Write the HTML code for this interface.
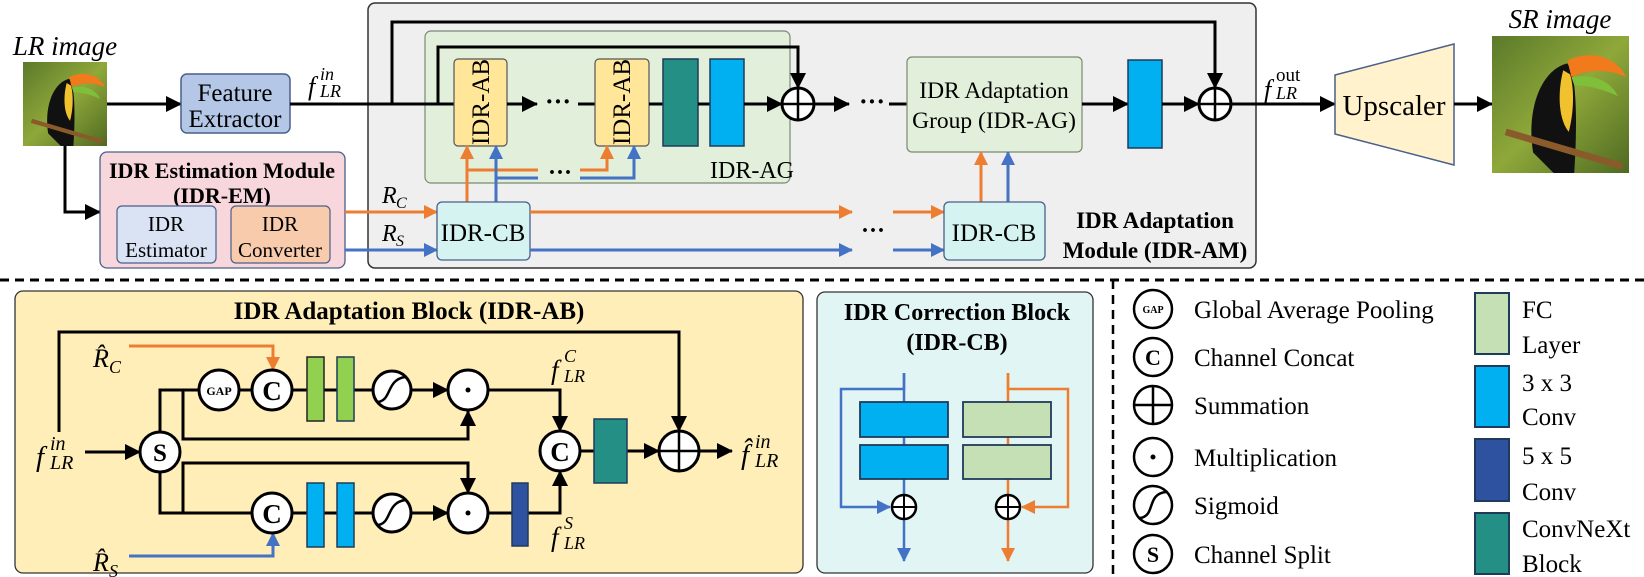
<!DOCTYPE html>
<html><head><meta charset="utf-8"><style>
body{margin:0;background:#fff}
svg{display:block}
text{font-family:"Liberation Serif",serif}
.it{font-style:italic}
.b{font-weight:bold}
</style></head><body>
<svg width="1644" height="577" viewBox="0 0 1644 577" xmlns="http://www.w3.org/2000/svg">
<defs>
<marker id="ak" markerUnits="userSpaceOnUse" markerWidth="16" markerHeight="16" refX="15" refY="8" orient="auto"><path d="M0,0 L16,8 L0,16 z" fill="#000"/></marker>
<marker id="ao" markerUnits="userSpaceOnUse" markerWidth="14" markerHeight="14" refX="13" refY="7" orient="auto"><path d="M0,0 L14,7 L0,14 z" fill="#ed7d31"/></marker>
<marker id="ab" markerUnits="userSpaceOnUse" markerWidth="14" markerHeight="14" refX="13" refY="7" orient="auto"><path d="M0,0 L14,7 L0,14 z" fill="#4472c4"/></marker>
<linearGradient id="bg" x1="0" y1="0" x2="1" y2="1"><stop offset="0" stop-color="#5b7a2a"/><stop offset="0.5" stop-color="#8fa83a"/><stop offset="1" stop-color="#4f6a22"/></linearGradient>
<g id="toucan">
<rect x="0" y="0" width="100" height="100" fill="url(#bg)"/>
<path d="M55,20 C35,25 25,55 30,85 L45,100 L60,100 C62,70 62,40 58,25z" fill="#111"/>
<path d="M52,25 C48,40 48,60 56,70 C60,55 60,38 57,28z" fill="#f2c12e"/>
<path d="M55,18 C70,10 90,14 98,30 C85,24 70,24 58,30z" fill="#f07a1c"/>
<path d="M58,30 C70,28 85,30 92,44 C80,38 68,36 60,36z" fill="#7fbf3a"/>
<path d="M10,70 L95,95" stroke="#8a5a2a" stroke-width="5"/>
</g>
</defs>

<!-- LR image -->
<text x="65" y="55" class="it" font-size="27" text-anchor="middle">LR image</text>
<svg x="23" y="62" width="84" height="84" viewBox="0 0 100 100" preserveAspectRatio="none"><use href="#toucan"/></svg>

<!-- gray IDR-AM -->
<rect x="368" y="3" width="888" height="265" rx="7" fill="#efefef" stroke="#333" stroke-width="1.5"/>
<!-- IDR-AG green -->
<rect x="425" y="31" width="365" height="152" rx="6" fill="#e2efda" stroke="#7a8a70" stroke-width="1.2"/>
<text x="752" y="178" font-size="24" text-anchor="middle">IDR-AG</text>

<!-- main line -->
<line x1="107" y1="104" x2="181" y2="104" stroke="#000" stroke-width="3" marker-end="url(#ak)"/>
<rect x="181" y="74" width="109" height="59" rx="6" fill="#b4c7e7" stroke="#4a5f8a" stroke-width="1.5"/>
<text x="235" y="101" font-size="25" text-anchor="middle">Feature</text>
<text x="235" y="127" font-size="25" text-anchor="middle">Extractor</text>
<text x="308" y="95" class="it" font-size="26">f</text><text x="320" y="80" class="it" font-size="18">in</text><text x="320" y="97" class="it" font-size="18">LR</text>
<line x1="290" y1="104" x2="454" y2="104" stroke="#000" stroke-width="3"/>
<!-- outer skip -->
<polyline points="392,104 392,22 1215,22 1215,88" fill="none" stroke="#000" stroke-width="3" marker-end="url(#ak)"/>
<!-- inner skip -->
<polyline points="438,104 438,47 798,47 798,88" fill="none" stroke="#000" stroke-width="3" marker-end="url(#ak)"/>

<!-- AB boxes -->
<rect x="454" y="59" width="53" height="87" rx="4" fill="#ffe699" stroke="#555" stroke-width="1.2"/>
<text transform="translate(489,102) rotate(-90)" font-size="25" text-anchor="middle">IDR-AB</text>
<line x1="507" y1="104" x2="537" y2="104" stroke="#000" stroke-width="3" marker-end="url(#ak)"/>
<text x="558" y="110" font-size="26" text-anchor="middle" font-weight="bold">···</text>
<line x1="578" y1="104" x2="595" y2="104" stroke="#000" stroke-width="3"/>
<rect x="595" y="59" width="54" height="87" rx="4" fill="#ffe699" stroke="#555" stroke-width="1.2"/>
<text transform="translate(630,102) rotate(-90)" font-size="25" text-anchor="middle">IDR-AB</text>
<line x1="649" y1="104" x2="663" y2="104" stroke="#000" stroke-width="3"/>
<rect x="663" y="59" width="35" height="87" fill="#238f85" stroke="#1f3b5a" stroke-width="1.5"/>
<line x1="698" y1="104" x2="710" y2="104" stroke="#000" stroke-width="3"/>
<rect x="710" y="59" width="34" height="87" fill="#00b0f0" stroke="#1f3b5a" stroke-width="1.5"/>
<line x1="744" y1="104" x2="782" y2="104" stroke="#000" stroke-width="3" marker-end="url(#ak)"/>
<circle cx="798" cy="104" r="16" fill="#fff" stroke="#000" stroke-width="3"/>
<path d="M782,104 H814 M798,88 V120" stroke="#000" stroke-width="2.5"/>
<line x1="814" y1="104" x2="849" y2="104" stroke="#000" stroke-width="3" marker-end="url(#ak)"/>
<text x="872" y="110" font-size="26" text-anchor="middle" font-weight="bold">···</text>
<line x1="889" y1="104" x2="907" y2="104" stroke="#000" stroke-width="3"/>
<rect x="907" y="57" width="175" height="95" rx="5" fill="#e2efda" stroke="#7a8a70" stroke-width="1.2"/>
<text x="994" y="98" font-size="23.5" text-anchor="middle">IDR Adaptation</text>
<text x="994" y="128" font-size="23.5" text-anchor="middle">Group (IDR-AG)</text>
<line x1="1082" y1="104" x2="1128" y2="104" stroke="#000" stroke-width="3" marker-end="url(#ak)"/>
<rect x="1128" y="60" width="34" height="88" fill="#00b0f0" stroke="#1f3b5a" stroke-width="1.5"/>
<line x1="1162" y1="104" x2="1199" y2="104" stroke="#000" stroke-width="3" marker-end="url(#ak)"/>
<circle cx="1215" cy="104" r="16" fill="#fff" stroke="#000" stroke-width="3"/>
<path d="M1199,104 H1231 M1215,88 V120" stroke="#000" stroke-width="2.5"/>
<line x1="1231" y1="104" x2="1335" y2="104" stroke="#000" stroke-width="3" marker-end="url(#ak)"/>
<text x="1264" y="98" class="it" font-size="26">f</text><text x="1276" y="81" font-size="19">out</text><text x="1276" y="99" class="it" font-size="18">LR</text>
<polygon points="1335,75 1454,44 1454,165 1335,134" fill="#fff2cc" stroke="#4a5f8a" stroke-width="1.5"/>
<text x="1394" y="115" font-size="29" text-anchor="middle">Upscaler</text>
<line x1="1454" y1="104" x2="1492" y2="104" stroke="#000" stroke-width="3" marker-end="url(#ak)"/>
<text x="1560" y="28" class="it" font-size="27" text-anchor="middle">SR image</text>
<svg x="1492" y="36" width="137" height="137" viewBox="0 0 100 100" preserveAspectRatio="none"><use href="#toucan"/></svg>

<!-- IDR-EM -->
<polyline points="65,146 65,212 100,212" fill="none" stroke="#000" stroke-width="3" marker-end="url(#ak)"/>
<rect x="100" y="152" width="245" height="116" rx="7" fill="#f8d7dc" stroke="#4a5f8a" stroke-width="1.3"/>
<text x="222" y="178" class="b" font-size="22" text-anchor="middle">IDR Estimation Module</text>
<text x="222" y="203" class="b" font-size="22" text-anchor="middle">(IDR-EM)</text>
<rect x="117" y="206" width="99" height="57" rx="5" fill="#dae3f3" stroke="#4a5f8a" stroke-width="1.2"/>
<text x="166" y="231" font-size="21" text-anchor="middle">IDR</text>
<text x="166" y="257" font-size="21" text-anchor="middle">Estimator</text>
<rect x="231" y="206" width="99" height="57" rx="5" fill="#f8cbad" stroke="#4a5f8a" stroke-width="1.2"/>
<text x="280" y="231" font-size="21" text-anchor="middle">IDR</text>
<text x="280" y="257" font-size="21" text-anchor="middle">Converter</text>

<!-- R arrows -->
<line x1="345" y1="212" x2="437" y2="212" stroke="#ed7d31" stroke-width="3" marker-end="url(#ao)"/>
<line x1="345" y1="250" x2="437" y2="250" stroke="#4472c4" stroke-width="3" marker-end="url(#ab)"/>
<text x="382" y="203" class="it" font-size="24">R</text><text x="396" y="208" class="it" font-size="16">C</text>
<text x="382" y="241" class="it" font-size="24">R</text><text x="396" y="246" class="it" font-size="16">S</text>
<!-- CB1 -->
<polyline points="467,202 467,170 538,170" fill="none" stroke="#ed7d31" stroke-width="3"/>
<line x1="467" y1="170" x2="467" y2="146" stroke="#ed7d31" stroke-width="3" marker-end="url(#ao)"/>
<polyline points="496,202 496,178 538,178" fill="none" stroke="#4472c4" stroke-width="3"/>
<line x1="496" y1="178" x2="496" y2="146" stroke="#4472c4" stroke-width="3" marker-end="url(#ab)"/>
<text x="560" y="180" font-size="24" text-anchor="middle" font-weight="bold">···</text>
<polyline points="580,170 607,170 607,146" fill="none" stroke="#ed7d31" stroke-width="3" marker-end="url(#ao)"/>
<polyline points="580,178 634,178 634,146" fill="none" stroke="#4472c4" stroke-width="3" marker-end="url(#ab)"/>
<rect x="437" y="202" width="93" height="58" rx="5" fill="#d5f3f0" stroke="#4a5f8a" stroke-width="1.3"/>
<text x="483" y="241" font-size="25" text-anchor="middle">IDR-CB</text>
<line x1="530" y1="212" x2="852" y2="212" stroke="#ed7d31" stroke-width="3" marker-end="url(#ao)"/>
<line x1="530" y1="250" x2="852" y2="250" stroke="#4472c4" stroke-width="3" marker-end="url(#ab)"/>
<text x="873" y="238" font-size="24" text-anchor="middle" font-weight="bold">···</text>
<line x1="893" y1="212" x2="944" y2="212" stroke="#ed7d31" stroke-width="3" marker-end="url(#ao)"/>
<line x1="893" y1="250" x2="944" y2="250" stroke="#4472c4" stroke-width="3" marker-end="url(#ab)"/>
<line x1="981" y1="202" x2="981" y2="152" stroke="#ed7d31" stroke-width="3" marker-end="url(#ao)"/>
<line x1="1008" y1="202" x2="1008" y2="152" stroke="#4472c4" stroke-width="3" marker-end="url(#ab)"/>
<rect x="944" y="202" width="101" height="58" rx="5" fill="#d5f3f0" stroke="#4a5f8a" stroke-width="1.3"/>
<text x="994" y="241" font-size="25" text-anchor="middle">IDR-CB</text>
<text x="1155" y="228" class="b" font-size="23" text-anchor="middle">IDR Adaptation</text>
<text x="1155" y="258" class="b" font-size="23" text-anchor="middle">Module (IDR-AM)</text>

<!-- dashed separators -->
<line x1="0" y1="280" x2="1644" y2="280" stroke="#000" stroke-width="3" stroke-dasharray="9,6"/>
<line x1="1113" y1="280" x2="1113" y2="577" stroke="#000" stroke-width="2.5" stroke-dasharray="9,6"/>

<!-- IDR-AB panel -->
<rect x="15" y="291" width="788" height="282" rx="8" fill="#ffeeb8" stroke="#333" stroke-width="1.3"/>
<text x="409" y="319" class="b" font-size="25" text-anchor="middle">IDR Adaptation Block (IDR-AB)</text>
<g fill="none" stroke="#000" stroke-width="3">
<polyline points="59,432 59,332 679,332 679,431" marker-end="url(#ak)"/>
<line x1="85" y1="452" x2="140" y2="452" marker-end="url(#ak)"/>
<polyline points="160,432 160,390 199,390"/>
<polyline points="183,390 183,439 468,439 468,411" marker-end="url(#ak)"/>
<polyline points="160,472 160,513 252,513"/>
<polyline points="183,513 183,463 468,463 468,493" marker-end="url(#ak)"/>
<line x1="239" y1="390" x2="252" y2="390"/>
<line x1="292" y1="390" x2="373" y2="390"/>
<line x1="292" y1="513" x2="373" y2="513"/>
<line x1="412" y1="390" x2="448" y2="390" marker-end="url(#ak)"/>
<line x1="412" y1="513" x2="448" y2="513" marker-end="url(#ak)"/>
<polyline points="488,390 560,390 560,431" marker-end="url(#ak)"/>
<polyline points="488,513 560,513 560,471" marker-end="url(#ak)"/>
<line x1="580" y1="451" x2="595" y2="451"/>
<line x1="627" y1="451" x2="659" y2="451" marker-end="url(#ak)"/>
<line x1="699" y1="451" x2="732" y2="451" marker-end="url(#ak)"/>
</g>
<polyline points="129,346 273,346 273,370" fill="none" stroke="#ed7d31" stroke-width="3" marker-end="url(#ao)"/>
<polyline points="129,556 273,556 273,533" fill="none" stroke="#4472c4" stroke-width="3" marker-end="url(#ab)"/>
<rect x="307" y="357" width="17" height="64" fill="#92d050" stroke="#222" stroke-width="1.5"/>
<rect x="337" y="357" width="17" height="64" fill="#92d050" stroke="#1f3b5a" stroke-width="1.5"/>
<rect x="307" y="483" width="17" height="64" fill="#00b0f0" stroke="#1f3b5a" stroke-width="1.5"/>
<rect x="337" y="483" width="17" height="64" fill="#00b0f0" stroke="#1f3b5a" stroke-width="1.5"/>
<rect x="512" y="483" width="16" height="63" fill="#2f52a0" stroke="#1f3b5a" stroke-width="1.5"/>
<rect x="594" y="419" width="33" height="64" fill="#238f85" stroke="#1f3b5a" stroke-width="1.5"/>
<g fill="#fff" stroke="#000" stroke-width="3">
<circle cx="160" cy="452" r="20"/>
<circle cx="219" cy="390" r="20"/>
<circle cx="272" cy="390" r="20"/>
<circle cx="272" cy="513" r="20"/>
<circle cx="392" cy="390" r="19"/>
<circle cx="392" cy="513" r="19"/>
<circle cx="468" cy="390" r="20"/>
<circle cx="468" cy="513" r="20"/>
<circle cx="560" cy="451" r="20"/>
<circle cx="679" cy="451" r="20"/>
</g>
<path d="M659,451 H699 M679,431 V471" stroke="#000" stroke-width="2.5"/>
<path d="M378,402 C392,400 386,380 405,377 M378,525 C392,523 386,503 405,500" fill="none" stroke="#000" stroke-width="2.5"/>
<circle cx="468" cy="390" r="2.5"/><circle cx="468" cy="513" r="2.5"/>
<text x="160" y="461" class="b" font-size="25" text-anchor="middle">S</text>
<text x="219" y="395" class="b" font-size="12" text-anchor="middle">GAP</text>
<text x="272" y="400" class="b" font-size="27" text-anchor="middle">C</text>
<text x="272" y="523" class="b" font-size="27" text-anchor="middle">C</text>
<text x="560" y="461" class="b" font-size="27" text-anchor="middle">C</text>
<text x="36" y="466" class="it" font-size="29">f</text><text x="50" y="450" class="it" font-size="20">in</text><text x="50" y="469" class="it" font-size="20">LR</text>
<text x="93" y="367" class="it" font-size="26">R̂</text><text x="109" y="373" class="it" font-size="18">C</text>
<text x="93" y="571" class="it" font-size="26">R̂</text><text x="109" y="577" class="it" font-size="18">S</text>
<text x="551" y="379" class="it" font-size="27">f</text><text x="564" y="362" class="it" font-size="18">C</text><text x="564" y="382" class="it" font-size="18">LR</text>
<text x="551" y="546" class="it" font-size="27">f</text><text x="564" y="529" class="it" font-size="18">S</text><text x="564" y="549" class="it" font-size="18">LR</text>
<text x="741" y="464" class="it" font-size="29">f̂</text><text x="755" y="448" class="it" font-size="20">in</text><text x="755" y="467" class="it" font-size="20">LR</text>

<!-- IDR-CB panel -->
<rect x="817" y="292" width="276" height="281" rx="8" fill="#e0f5f4" stroke="#333" stroke-width="1.3"/>
<text x="957" y="320" class="b" font-size="24" text-anchor="middle">IDR Correction Block</text>
<text x="957" y="350" class="b" font-size="24" text-anchor="middle">(IDR-CB)</text>
<polyline points="904,373 904,389 841,389 841,507 890,507" fill="none" stroke="#4472c4" stroke-width="2.5" marker-end="url(#ab)"/>
<line x1="904" y1="373" x2="904" y2="561" stroke="#4472c4" stroke-width="2.5" marker-end="url(#ab)"/>
<polyline points="1008,373 1008,389 1068,389 1068,507 1022,507" fill="none" stroke="#ed7d31" stroke-width="2.5" marker-end="url(#ao)"/>
<line x1="1008" y1="373" x2="1008" y2="561" stroke="#ed7d31" stroke-width="2.5" marker-end="url(#ao)"/>
<rect x="860" y="402" width="88" height="35" fill="#00b0f0" stroke="#1f3b5a" stroke-width="1.8"/>
<rect x="860" y="445" width="88" height="34" fill="#00b0f0" stroke="#1f3b5a" stroke-width="1.8"/>
<rect x="963" y="402" width="88" height="35" fill="#c5e0b4" stroke="#1f3b5a" stroke-width="1.8"/>
<rect x="963" y="445" width="88" height="34" fill="#c5e0b4" stroke="#1f3b5a" stroke-width="1.8"/>
<circle cx="904" cy="507" r="12" fill="#fff" stroke="#000" stroke-width="2.5"/>
<path d="M892,507 H916 M904,495 V519" stroke="#000" stroke-width="2"/>
<circle cx="1008" cy="507" r="12" fill="#fff" stroke="#000" stroke-width="2.5"/>
<path d="M996,507 H1020 M1008,495 V519" stroke="#000" stroke-width="2"/>

<!-- legend -->
<g fill="#fff" stroke="#000" stroke-width="2.5">
<circle cx="1153" cy="309" r="19"/><circle cx="1153" cy="357" r="19"/><circle cx="1153" cy="405" r="19"/>
<circle cx="1153" cy="457" r="19"/><circle cx="1153" cy="505" r="19"/><circle cx="1153" cy="554" r="19"/>
</g>
<text x="1153" y="313" class="b" font-size="10" text-anchor="middle">GAP</text>
<text x="1153" y="365" class="b" font-size="22" text-anchor="middle">C</text>
<path d="M1134,405 H1172 M1153,386 V424" stroke="#000" stroke-width="2.5"/>
<circle cx="1153" cy="457" r="2.5"/>
<path d="M1140,518 C1156,516 1146,494 1166,492" fill="none" stroke="#000" stroke-width="2.5"/>
<text x="1153" y="562" class="b" font-size="22" text-anchor="middle">S</text>
<g font-size="25">
<text x="1194" y="318">Global Average Pooling</text>
<text x="1194" y="366">Channel Concat</text>
<text x="1194" y="414">Summation</text>
<text x="1194" y="466">Multiplication</text>
<text x="1194" y="514">Sigmoid</text>
<text x="1194" y="563">Channel Split</text>
<text x="1522" y="318">FC</text><text x="1522" y="353">Layer</text>
<text x="1522" y="391">3 x 3</text><text x="1522" y="425">Conv</text>
<text x="1522" y="464">5 x 5</text><text x="1522" y="500">Conv</text>
<text x="1522" y="537">ConvNeXt</text><text x="1522" y="572">Block</text>
</g>
<rect x="1475" y="293" width="34" height="61" fill="#c5e0b4" stroke="#1f3b5a" stroke-width="2"/>
<rect x="1475" y="366" width="34" height="61" fill="#00b0f0" stroke="#1f3b5a" stroke-width="2"/>
<rect x="1475" y="439" width="34" height="62" fill="#2f52a0" stroke="#1f3b5a" stroke-width="2"/>
<rect x="1475" y="513" width="34" height="61" fill="#238f85" stroke="#1f3b5a" stroke-width="2"/>
</svg>
</body></html>
